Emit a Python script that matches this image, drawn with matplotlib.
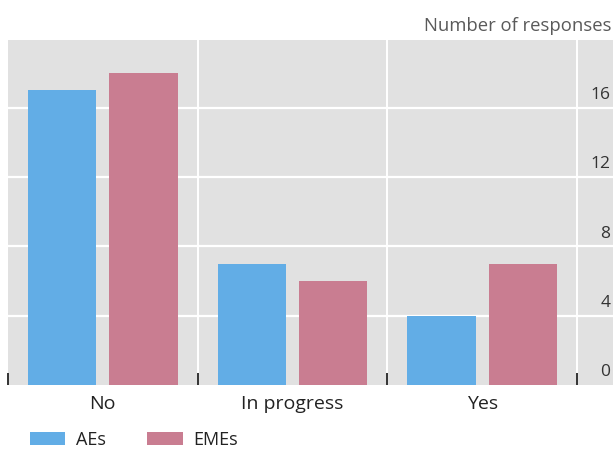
import numpy as np
import matplotlib
matplotlib.use("Agg")
from matplotlib import pyplot as plt
from matplotlib import transforms

plt.rcParams['font.family'] = ['Open Sans', 'DejaVu Sans']

# data
categories = ["No", "In progress", "Yes"]
aes = [17, 7, 4]
emes = [18, 6, 7]
y_ticks = [0, 4, 8, 12, 16]

blue = "#62ade6"
red = "#c97d91"
bg = "#e1e1e1"

fig = plt.figure(figsize=(6.13, 4.49), dpi=100)
ax = fig.add_axes([8 / 613, 64 / 449, 605 / 613, 345 / 449])
ax.set_facecolor(bg)

x = np.arange(len(categories))
w = 0.36
ax.bar(x - 0.215, aes, w, color=blue, label="AEs", zorder=3)
ax.bar(x + 0.215, emes, w, color=red, label="EMEs", zorder=3)

ax.set_xlim(-0.5, 2.69)
ax.set_ylim(0, 19.9)

# white grid: horizontal at ticks, vertical between categories
for v in y_ticks[1:]:
    ax.axhline(v, color="white", lw=1.6, zorder=1)
for s in [0.5, 1.5, 2.5]:
    ax.axvline(s, color="white", lw=1.4, zorder=1)

# category labels, separator ticks
ax.set_xticks(x)
ax.set_xticklabels(categories, fontsize=14, color="#222222")
ax.tick_params(axis="x", which="major", length=0, pad=7)
ax.set_xticks([-0.5, 0.5, 1.5, 2.5], minor=True)
ax.tick_params(axis="x", which="minor", direction="in", length=9,
               width=1.4, color="#333333")

# y labels on the right, inside the plot, sitting above the lines
ax.set_yticks([])
off = transforms.ScaledTranslation(0, 9 / 72, fig.dpi_scale_trans)
trans = transforms.blended_transform_factory(ax.transAxes, ax.transData) + off
for v in y_ticks:
    ax.text(0.996, v, str(v), transform=trans, ha="right", va="center",
            fontsize=12.5, color="#333333")

for sp in ax.spines.values():
    sp.set_visible(False)

fig.text(0.997, 0.943, "Number of responses", ha="right", va="center",
         fontsize=13.3, color="#5a5a5a")

fig.legend(loc="center left", bbox_to_anchor=(0.037, 0.02), ncol=2,
           frameon=False, fontsize=13, handlelength=1.95, handleheight=0.75,
           handletextpad=0.6, columnspacing=2.3, borderaxespad=0,
           labelcolor="#222222")

fig.savefig("out.png", dpi=100)
